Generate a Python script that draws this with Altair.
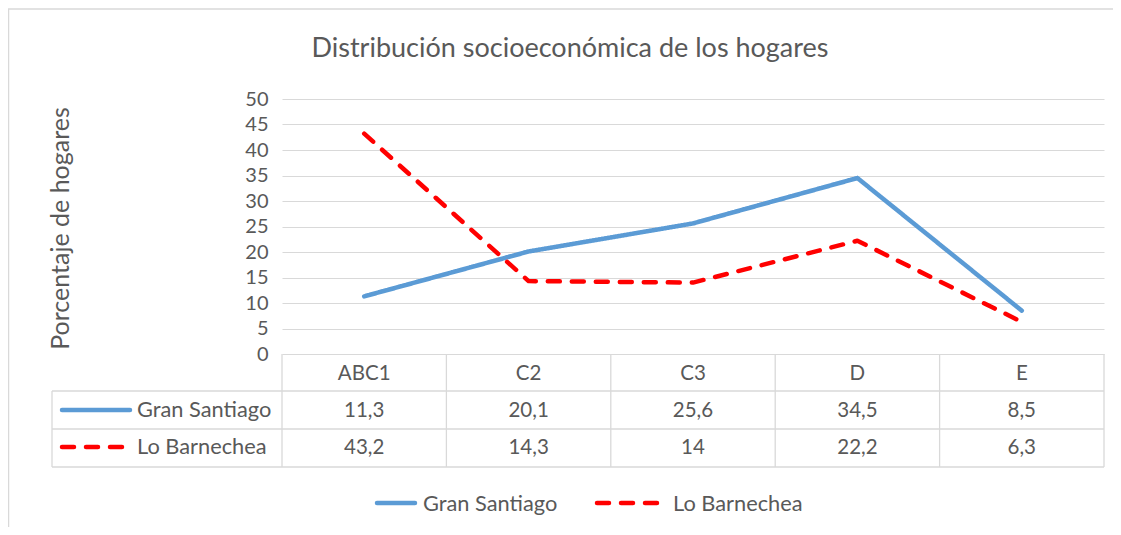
import altair as alt
import pandas as pd

categories = ["ABC1", "C2", "C3", "D", "E"]
series_names = ["Gran Santiago", "Lo Barnechea"]
gran_santiago = [11.3, 20.1, 25.6, 34.5, 8.5]
lo_barnechea = [43.2, 14.3, 14, 22.2, 6.3]
y_ticks = [0, 5, 10, 15, 20, 25, 30, 35, 40, 45, 50]
title_text = "Distribución socioeconómica de los hogares"
y_title = "Porcentaje de hogares"

colors = ["#5B9BD5", "#FF0000"]
dashes = [[1, 0], [12, 12]]
TXT = "#595959"
GRID = "#D9D9D9"
FONT = "Lato"

rows = []
for s, vals in zip(series_names, [gran_santiago, lo_barnechea]):
    for c, v in zip(categories, vals):
        rows.append({"series": s, "category": c, "value": v,
                     "label": f"{v:g}".replace(".", ",")})
df = pd.DataFrame(rows)
cat_df = pd.DataFrame({"category": categories})
series_df = pd.DataFrame({"series": series_names})
one = pd.DataFrame({"k": [0]})

xscale = alt.Scale(type="band", domain=categories, paddingInner=0, paddingOuter=0)
X = alt.X("category:N", scale=xscale, axis=None, sort=categories)

yaxis = alt.Axis(values=y_ticks, grid=True, gridColor=GRID, gridWidth=1,
                 domain=False, ticks=False, labelPadding=14, labelFontSize=20,
                 labelColor=TXT, labelFont=FONT, title=y_title,
                 titleX=-222, titleY=129, titleAngle=270, titleAlign="center",
                 titleBaseline="middle", titleFontSize=25, titleFontWeight="normal",
                 titleColor=TXT, titleFont=FONT)

color = alt.Color("series:N", scale=alt.Scale(domain=series_names, range=colors), legend=None)
sdash = alt.StrokeDash("series:N", scale=alt.Scale(domain=series_names, range=dashes), legend=None)

lines = alt.Chart(df).mark_line(strokeWidth=4.5, strokeCap="round", strokeJoin="round").encode(
    x=X,
    y=alt.Y("value:Q", scale=alt.Scale(domain=[0, 50]), axis=yaxis),
    color=color,
    strokeDash=sdash,
    detail="series:N",
)

layers = []

# outer chart border (top and left visible)
layers.append(alt.Chart(one).mark_rule(color=GRID, strokeWidth=1.5).encode(
    x=alt.value(-274), x2=alt.value(900), y=alt.value(-90)))
layers.append(alt.Chart(one).mark_rule(color=GRID, strokeWidth=1.5).encode(
    x=alt.value(-273.5), y=alt.value(-90), y2=alt.value(500)))

# table grid
layers.append(alt.Chart(cat_df).mark_rule(color=GRID, strokeWidth=1.3).encode(
    x=alt.X("category:N", scale=xscale, axis=None, sort=categories, bandPosition=0),
    y=alt.value(255), y2=alt.value(368)))
layers.append(alt.Chart(one).mark_rule(color=GRID, strokeWidth=1.3).encode(
    x=alt.value(822), y=alt.value(255), y2=alt.value(368)))
layers.append(alt.Chart(one).mark_rule(color=GRID, strokeWidth=1.3).encode(
    x=alt.value(-230), y=alt.value(292), y2=alt.value(368)))
for yy in [292, 330, 368]:
    layers.append(alt.Chart(one).mark_rule(color=GRID, strokeWidth=1.3).encode(
        x=alt.value(-230), x2=alt.value(822), y=alt.value(yy)))

layers.append(lines)

# table header
layers.append(alt.Chart(cat_df).mark_text(font=FONT, fontSize=20.5, color=TXT, baseline="alphabetic").encode(
    x=X, y=alt.value(281), text="category:N"))

row_base = [318, 355]
for i, s in enumerate(series_names):
    layers.append(alt.Chart(df).transform_filter(alt.datum.series == s).mark_text(
        font=FONT, fontSize=20.5, color=TXT, baseline="alphabetic").encode(
        x=X, y=alt.value(row_base[i]), text="label:N"))
    sub = series_df[series_df.series == s]
    layers.append(alt.Chart(sub).mark_text(font=FONT, fontSize=21.8, color=TXT,
                                           baseline="alphabetic", align="left").encode(
        x=alt.value(-145), y=alt.value(row_base[i]), text="series:N"))
    layers.append(alt.Chart(sub).mark_rule(strokeWidth=4.5, strokeCap="round").encode(
        x=alt.value(-220), x2=alt.value(-152 if i == 0 else -157), y=alt.value(row_base[i] - 7),
        color=color, strokeDash=sdash))

# bottom legend
leg_line_x = [(95, 133), (315, 377)]
leg_text_x = [141, 391]
for i, s in enumerate(series_names):
    sub = series_df[series_df.series == s]
    layers.append(alt.Chart(sub).mark_rule(strokeWidth=4.5, strokeCap="round").encode(
        x=alt.value(leg_line_x[i][0]), x2=alt.value(leg_line_x[i][1]), y=alt.value(404),
        color=color, strokeDash=sdash))
    layers.append(alt.Chart(sub).mark_text(font=FONT, fontSize=21.8, color=TXT,
                                           baseline="alphabetic", align="left").encode(
        x=alt.value(leg_text_x[i]), y=alt.value(412), text="series:N"))

# title
title_df = pd.DataFrame({"t": [title_text]})
layers.append(alt.Chart(title_df).mark_text(font=FONT, fontSize=27, color=TXT,
                                            baseline="alphabetic", align="center").encode(
    x=alt.value(288), y=alt.value(-42), text="t:N"))

chart = alt.layer(*layers).properties(
    width=822, height=255,
    autosize=alt.AutoSizeParams(type="none"),
    padding={"left": 274, "top": 91, "right": 9, "bottom": 173},
).configure_view(stroke=None)

chart.save("out.html", embed_options={"renderer": "svg", "actions": False})
